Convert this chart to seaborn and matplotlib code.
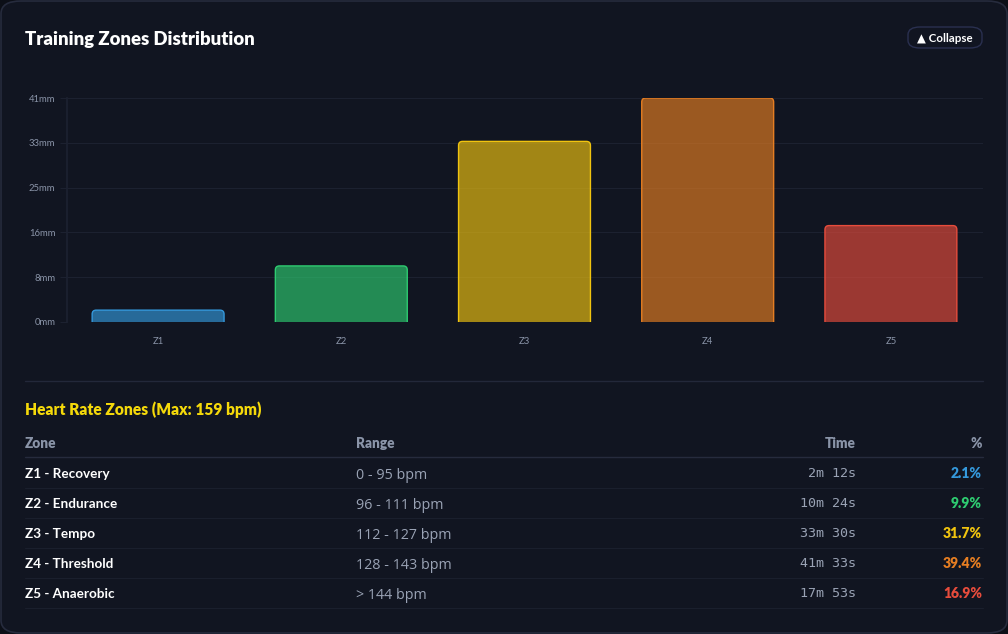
import matplotlib
matplotlib.use("Agg")
import matplotlib.pyplot as plt
from matplotlib.patches import FancyBboxPatch
import seaborn as sns

# Chart data
zones = ["Z1", "Z2", "Z3", "Z4", "Z5"]
minutes = [2.2, 10.4, 33.5, 41.55, 17.883]
zone_colors = ["#3498db", "#2ecc71", "#f1c40f", "#e67e22", "#e74c3c"]
ytick_labels = ["0mm", "8mm", "16mm", "25mm", "33mm", "41mm"]

# Table data
zone_names = ["Z1 - Recovery", "Z2 - Endurance", "Z3 - Tempo", "Z4 - Threshold", "Z5 - Anaerobic"]
ranges = ["0 - 95 bpm", "96 - 111 bpm", "112 - 127 bpm", "128 - 143 bpm", "> 144 bpm"]
times = ["2m 12s", "10m 24s", "33m 30s", "41m 33s", "17m 53s"]
percents = ["2.1%", "9.9%", "31.7%", "39.4%", "16.9%"]

W, H = 1008, 634
BG = "#0c0f17"
CARD = "#111521"
GRID = "#1c2130"
MUTED = "#8a94a8"

sns.set_theme(style="dark")
plt.rcParams["font.family"] = ["Lato", "DejaVu Sans"]

fig = plt.figure(figsize=(W / 100, H / 100), dpi=100)
fig.patch.set_facecolor(BG)


def fx(px):
    return px / W


def fy(py):
    return 1 - py / H


# Card background
card = FancyBboxPatch((fx(1), fy(633)), fx(1006), 632 / H,
                      boxstyle="round,pad=0,rounding_size=0.02",
                      transform=fig.transFigure, facecolor=CARD,
                      edgecolor="#262b3d", linewidth=1.2, zorder=-1)
fig.patches.append(card)

# Title and button
fig.text(fx(25), fy(39.5), "Training Zones Distribution", color="white",
         fontsize=13.3, fontweight="heavy", va="center", ha="left")
btn = FancyBboxPatch((fx(908), fy(48)), fx(74), 21 / H,
                     boxstyle="round,pad=0,rounding_size=0.012",
                     transform=fig.transFigure, facecolor=CARD,
                     edgecolor="#2a3050", linewidth=1, zorder=-1)
fig.patches.append(btn)
fig.text(fx(945), fy(38.5), "▲ Collapse", color="white", fontsize=8.3,
         fontweight="bold", va="center", ha="center",
         family=["Lato", "DejaVu Sans"])

# Bar chart
ax_w_px, ax_h_px = 916, 224
ax = fig.add_axes([fx(66.5), fy(322), fx(ax_w_px), ax_h_px / H])
ax.set_facecolor(CARD)
sns.barplot(x=zones, y=minutes, hue=zones, palette=zone_colors, width=0.72,
            legend=False, ax=ax, zorder=3)

top = max(minutes)
ax.set_ylim(0, top)
ax.set_xlim(-0.5, len(zones) - 0.5)

# swap the plain rectangles for ones with rounded top corners
x_per_px = len(zones) / ax_w_px
y_per_px = top / ax_h_px
radius = 4 * x_per_px
for patch, c in list(zip(ax.patches, zone_colors)):
    x0, w, h = patch.get_x(), patch.get_width(), patch.get_height()
    patch.remove()
    off = 5 * y_per_px
    rb = FancyBboxPatch((x0, -off), w, h + off,
                        boxstyle=f"round,pad=0,rounding_size={radius}",
                        mutation_aspect=y_per_px / x_per_px,
                        facecolor=matplotlib.colors.to_rgba(c, 0.65),
                        edgecolor=c, linewidth=1, zorder=3)
    ax.add_patch(rb)

ax.set_yticks([top * i / 5 for i in range(6)])
ax.set_yticklabels(ytick_labels)
ax.grid(axis="y", color=GRID, linewidth=0.8, zorder=0)
ax.grid(axis="x", visible=False)
for side in ["top", "right", "bottom"]:
    ax.spines[side].set_visible(False)
ax.spines["left"].set_color(GRID)
ax.tick_params(axis="y", colors=GRID, labelcolor=MUTED, labelsize=6.8,
               length=5, width=0.8, pad=3, left=True)
ax.tick_params(axis="x", colors=MUTED, labelsize=6.8, length=0, pad=11)
ax.set_xlabel("")
ax.set_ylabel("")

# Divider
fig.add_artist(plt.Line2D([fx(25), fx(983)], [fy(381), fy(381)],
                          color="#23283a", linewidth=1))

# Table
fig.text(fx(25), fy(410), "Heart Rate Zones (Max: 159 bpm)", color="#f5d90a",
         fontsize=11.2, fontweight="heavy", va="center")
for hx, label, ha in [(25, "Zone", "left"), (356, "Range", "left"),
                      (856, "Time", "right"), (982, "%", "right")]:
    fig.text(fx(hx), fy(443), label, color=MUTED, fontsize=9.8,
             fontweight="heavy", va="center", ha=ha)
fig.add_artist(plt.Line2D([fx(25), fx(983)], [fy(457), fy(457)],
                          color="#262b3d", linewidth=1))

for i, (name, rng, t, p, c) in enumerate(zip(zone_names, ranges, times, percents, zone_colors)):
    y = 473.5 + 30 * i
    fig.text(fx(25), fy(y), name, color="white", fontsize=9.7, fontweight="bold", va="center")
    fig.text(fx(356), fy(y + 2), rng, color="#9aa3b5", fontsize=10.3, va="center",
             family=["Open Sans", "DejaVu Sans"])
    fig.text(fx(856), fy(y), t, color="#9aa3b5", fontsize=9.6, va="center", ha="right",
             family="DejaVu Sans Mono")
    fig.text(fx(982), fy(y), p, color=c, fontsize=10, fontweight="heavy", va="center",
             ha="right")
    fig.add_artist(plt.Line2D([fx(25), fx(983)], [fy(y + 14.5), fy(y + 14.5)],
                              color="#1a1f2d", linewidth=0.8))

plt.savefig("out.png", dpi=100, facecolor=BG)
